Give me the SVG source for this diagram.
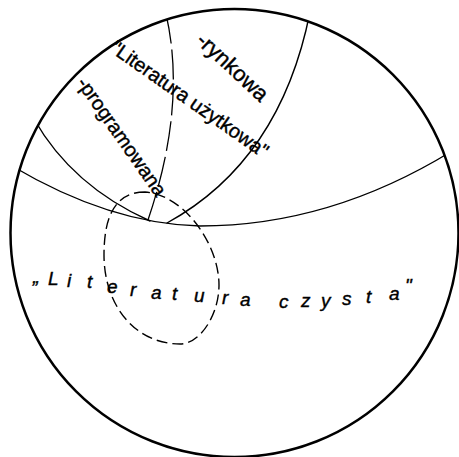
<svg xmlns="http://www.w3.org/2000/svg" width="459" height="457" viewBox="0 0 459 457">
<style>
.ln{fill:none;stroke:#000;stroke-width:1.4;stroke-linecap:round}
.dl{fill:none;stroke:#000;stroke-width:1.3;stroke-dasharray:30 6}
.de{fill:none;stroke:#000;stroke-width:1.4;stroke-dasharray:11 5}
.lb{font-family:"Liberation Sans","DejaVu Sans",sans-serif;fill:#000;stroke:#000;stroke-width:0.4}
</style>
<defs>
<clipPath id="cc"><circle cx="234.5" cy="233" r="224"/></clipPath>
</defs>
<rect width="459" height="457" fill="#fff"/>
<g id="universe">
<circle cx="234.5" cy="233" r="224" fill="none" stroke="#000" stroke-width="2.5"/>
</g>
<g id="connectors" clip-path="url(#cc)">
<path class="ln" d="M34,119 Q72,186 150,221"/>
<path class="ln" d="M12,166 Q110,224 200,226 Q330,226 452,151"/>
<path class="ln" d="M310,12 Q280.5,160.6 167,223"/>
<path class="dl" d="M166,14 Q187,105 148,220"/>
<path class="de" d="M145,192 C112,192 104,222 104,255 C104,305 135,344 180,344 C200,344 219,315 219,285 C219,245 185,195 145,192 Z"/>
</g>
<g id="labels">
<text class="lb" font-size="20" transform="translate(109,51) rotate(35)">"Literatura użytkowa"</text>
<text class="lb" font-size="22" transform="translate(195,42) rotate(43)">-rynkowa</text>
<text class="lb" font-size="20" transform="translate(76,83) rotate(55)">-programowana</text>
<text class="lb" font-size="19" font-style="italic" x="33 48 67 87 107 130 151 172 194 222 240 260 279 301 321 342 366 389 405" y="283 285 287 288 293 296 299 300 302 304 306 307 308 307 307 305 303 300 292">„Literatura czysta"</text>
</g>
</svg>
